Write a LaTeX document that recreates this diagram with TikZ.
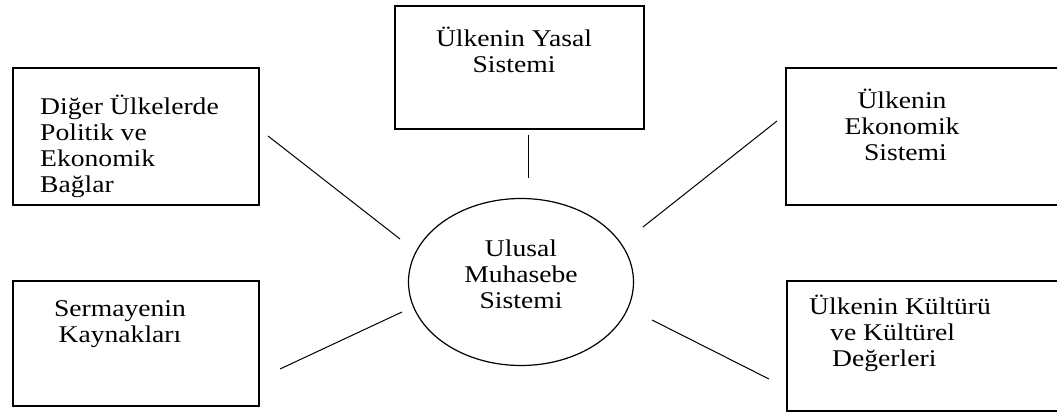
\documentclass[tikz,border=0pt]{standalone}
\usepackage{fontspec}
\setmainfont[FakeStretch=1.15]{Liberation Serif}
\usetikzlibrary{shapes.geometric}
\tikzset{
  boxnode/.style={draw, line width=1.6pt, rectangle, inner sep=0pt, anchor=north west},
  hubnode/.style={draw, line width=1.2pt, ellipse, inner sep=0pt},
  label/.style={inner sep=0pt, font=\fontsize{24}{26}\selectfont},
  link/.style={line width=1pt}
}
\begin{document}
\begin{tikzpicture}[x=1pt,y=-1pt]
\clip (0,0) rectangle (1057,414);
\fill[white] (0,0) rectangle (1057,414);
% boxes
\node[boxnode, minimum width=246pt, minimum height=137pt] (b1) at (12,67) {};
\node[boxnode, minimum width=249pt, minimum height=123pt] (b2) at (394,5) {};
\node[boxnode, minimum width=290pt, minimum height=137pt] (b3) at (785,67) {};
\node[boxnode, minimum width=246pt, minimum height=125pt] (b4) at (12,280) {};
\node[boxnode, minimum width=290pt, minimum height=130pt] (b5) at (786,280) {};
\node[hubnode, minimum width=225pt, minimum height=167pt] (hub) at (521,282) {};
% texts
\node[label, align=left, anchor=west] (t1) at (40,146) {Diğer Ülkelerde\\Politik ve\\Ekonomik\\Bağlar};
\node[label, align=center] (t2) at (514,50) {Ülkenin Yasal\\Sistemi};
\node[label, align=center] (t3) at (902,125) {Ülkenin\\Ekonomik\\\ Sistemi};
\node[label, align=center] (t4) at (120,324) {Sermayenin\\Kaynakları};
\node[label, align=left, anchor=west] (t5) at (809,333) {Ülkenin Kültürü\\\hspace*{21pt}ve Kültürel\\\hspace*{23pt}Değerleri};
\node[label, align=center] (th) at (521,274) {Ulusal\\Muhasebe\\Sistemi};
% connector ends
\coordinate (l1a) at (268,136); \coordinate (l1b) at (400,239);
\coordinate (l2a) at (528,135); \coordinate (l2b) at (528,178);
\coordinate (l3a) at (777,121); \coordinate (l3b) at (643,227);
\coordinate (l4a) at (280,369); \coordinate (l4b) at (402,312);
\coordinate (l5a) at (769,379); \coordinate (l5b) at (652,320);
\draw[link] (l1a) -- (l1b);
\draw[link] (l2a) -- (l2b);
\draw[link] (l3a) -- (l3b);
\draw[link] (l4a) -- (l4b);
\draw[link] (l5a) -- (l5b);
\end{tikzpicture}
\end{document}
